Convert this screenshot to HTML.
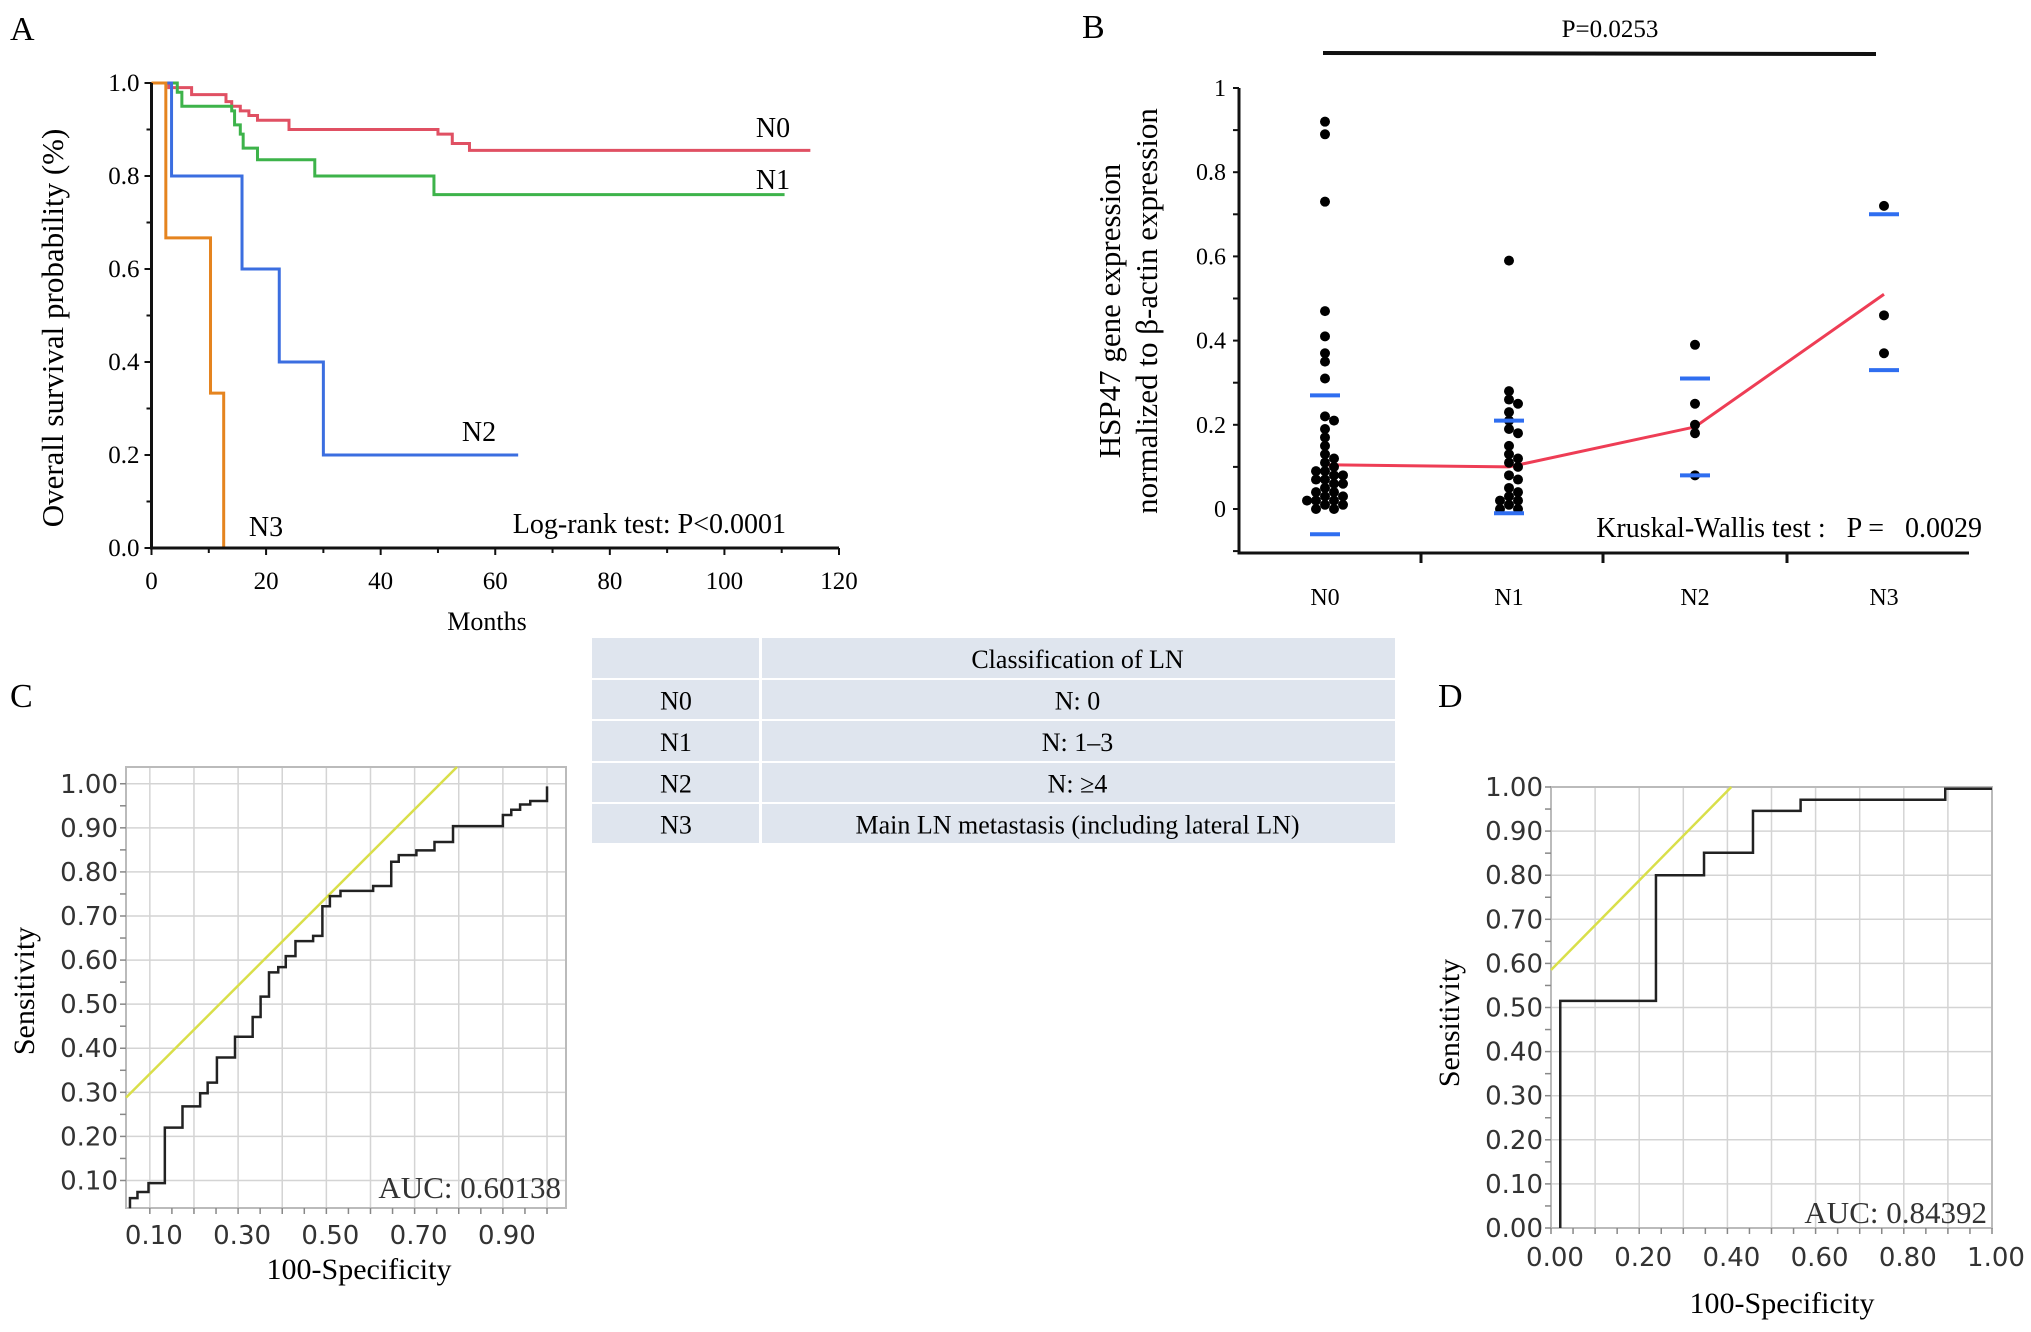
<!DOCTYPE html>
<html><head><meta charset="utf-8"><style>
html,body{margin:0;padding:0;background:#fff}
svg{display:block}
.serif{font-family:"Liberation Serif",serif}
.sans{font-family:"DejaVu Sans","Liberation Sans",sans-serif}
</style></head><body>
<svg id="fig" width="2031" height="1332" viewBox="0 0 2031 1332" xmlns="http://www.w3.org/2000/svg">
<g id="pa"></g>
<g id="pb"></g>
<g id="pc"></g>
<g id="pd"></g>
<g id="tbl"></g>
</svg>
<script>
// ---------- Panel A data ----------
const kmN0T=[0,3,7,13,14,15.5,17,18.5,24,50,52.5,55.5,115];
const kmN0S=[1,0.99,0.975,0.96,0.95,0.94,0.93,0.92,0.90,0.89,0.87,0.855,0.855];
const kmN1T=[0,4.5,5.3,14,14.5,15.5,16,18.5,28.5,49.3,110.5];
const kmN1S=[1,0.98,0.95,0.94,0.91,0.89,0.86,0.835,0.80,0.76,0.76];
const kmN2T=[0,3.5,15.8,22.3,30,64];
const kmN2S=[1,0.8,0.6,0.4,0.2,0.2];
const kmN3T=[0,2.5,10.3,12.6,12.6];
const kmN3S=[1,0.667,0.333,0,0];
const aXTicks=[0,20,40,60,80,100,120];
const aYTicks=["0.0","0.2","0.4","0.6","0.8","1.0"];
// ---------- Panel B data ----------
const bCats=["N0","N1","N2","N3"];
const bN0=[0.92,0.89,0.73,0.47,0.41,0.37,0.35,0.31,0.22,0.21,0.19,0.17,0.15,0.13,0.12,0.11,0.10,0.09,0.09,0.08,0.08,0.07,0.07,0.06,0.06,0.05,0.04,0.04,0.03,0.03,0.02,0.02,0.02,0.01,0.01,0.0,0.0];
const bN1=[0.59,0.28,0.26,0.25,0.23,0.21,0.19,0.18,0.15,0.13,0.12,0.11,0.10,0.08,0.07,0.05,0.04,0.03,0.02,0.02,0.01,0.0,0.0];
const bN2=[0.39,0.25,0.20,0.18,0.08];
const bN3=[0.72,0.46,0.37];
const bUpper=[0.27,0.21,0.31,0.70];
const bLower=[-0.06,-0.01,0.08,0.33];
const bMean=[0.105,0.10,0.195,0.51];
const bYTicks=["0","0.2","0.4","0.6","0.8","1"];
// ---------- Panel C data ----------
const cFpr=[0.055,0.055,0.072,0.072,0.097,0.097,0.134,0.134,0.174,0.174,0.214,0.214,0.231,0.231,0.252,0.252,0.293,0.293,0.333,0.333,0.351,0.351,0.37,0.37,0.391,0.391,0.408,0.408,0.43,0.43,0.47,0.47,0.491,0.491,0.508,0.508,0.532,0.532,0.606,0.606,0.647,0.647,0.664,0.664,0.704,0.704,0.745,0.745,0.787,0.787,0.9,0.9,0.919,0.919,0.939,0.939,0.962,0.962,1.0,1.0];
const cTpr=[0.037,0.06,0.06,0.074,0.074,0.094,0.094,0.22,0.22,0.268,0.268,0.298,0.298,0.322,0.322,0.379,0.379,0.426,0.426,0.471,0.471,0.517,0.517,0.572,0.572,0.584,0.584,0.609,0.609,0.643,0.643,0.655,0.655,0.722,0.722,0.745,0.745,0.757,0.757,0.768,0.768,0.823,0.823,0.838,0.838,0.849,0.849,0.868,0.868,0.904,0.904,0.929,0.929,0.941,0.941,0.953,0.953,0.961,0.961,0.994];
const cRef=[0.242,1.0];  // intercept, slope
const cXTicks=["0.10","0.30","0.50","0.70","0.90"];
const cYTicks=["0.10","0.20","0.30","0.40","0.50","0.60","0.70","0.80","0.90","1.00"];
// ---------- Panel D data ----------
const dFpr=[0.021,0.021,0.238,0.238,0.347,0.347,0.458,0.458,0.566,0.566,0.894,0.894,1.0];
const dTpr=[0.0,0.515,0.515,0.80,0.80,0.851,0.851,0.946,0.946,0.971,0.971,0.996,0.996];
const dRef=[0.585,1.015];
const dXTicks=["0.00","0.20","0.40","0.60","0.80","1.00"];
const dYTicks=["0.00","0.10","0.20","0.30","0.40","0.50","0.60","0.70","0.80","0.90","1.00"];
// ---------- Table ----------
const tblRows=[["","Classification of LN"],["N0","N: 0"],["N1","N: 1–3"],["N2","N: ≥4"],["N3","Main LN metastasis (including lateral LN)"]];

const NS="http://www.w3.org/2000/svg";
function mk(parent,tag,attrs,text){const e=document.createElementNS(NS,tag);for(const k in attrs)e.setAttribute(k,attrs[k]);if(text!==undefined)e.textContent=text;parent.appendChild(e);return e;}

// ===== Panel A =====
(function(){
const g=document.getElementById('pa');
const X=v=>151.5+v/120*(839-151.5), Y=v=>548-v*(548-83);
let t=mk(g,'text',{x:10,y:40,'font-size':34,class:'serif'},'A');

function step(T,S,color,name){let d='M'+X(T[0])+','+Y(S[0]);for(let i=1;i<T.length;i++){d+=' H'+X(T[i])+' V'+Y(S[i]);}
 const p=mk(g,'path',{d:d,fill:'none',stroke:color,'stroke-width':3});}
step(kmN0T,kmN0S,'#e05063','curve-n0');
step(kmN1T,kmN1S,'#3db34a','curve-n1');
step(kmN2T,kmN2S,'#3b6ee0','curve-n2');
step(kmN3T,kmN3S,'#e5841f','curve-n3');
let ax=mk(g,'path',{d:`M${X(0)},${Y(1)} V${Y(0)} H${X(120)}`,fill:'none',stroke:'#111','stroke-width':3});

for(let m=0;m<=120;m+=10){const l=mk(g,'line',{x1:X(m),x2:X(m),y1:Y(0),y2:Y(0)+(m%20==0?7:5),stroke:'#111','stroke-width':2});}
for(let v=0;v<=10;v++){const l=mk(g,'line',{x1:X(0),x2:X(0)-(v%2==0?7:5),y1:Y(v/10),y2:Y(v/10),stroke:'#111','stroke-width':2});}
aXTicks.forEach(v=>{const e=mk(g,'text',{x:X(v),y:589,'font-size':25,'text-anchor':'middle',class:'serif'},String(v));});
aYTicks.forEach(s=>{const e=mk(g,'text',{x:X(0)-12,y:Y(+s)+8,'font-size':25,'text-anchor':'end',class:'serif'},s);});
let e=mk(g,'text',{x:487,y:630,'font-size':26,'text-anchor':'middle',class:'serif'},'Months');
e=mk(g,'text',{x:0,y:0,'font-size':31,'text-anchor':'middle',class:'serif',transform:'translate(63,328) rotate(-90)'},'Overall survival probability (%)');
[['N0',773,137],['N1',773,189],['N2',479,441],['N3',266,536]].forEach(a=>{const q=mk(g,'text',{x:a[1],y:a[2],'font-size':28,'text-anchor':'middle',class:'serif'},a[0]);});
e=mk(g,'text',{x:786,y:533,'font-size':28,'text-anchor':'end',class:'serif'},'Log-rank test: P<0.0001');
})();

// ===== Panel B =====
(function(){
const g=document.getElementById('pb');
const catX=[1325,1509,1695,1884];
const Y=v=>509-v*(509-88);
let e=mk(g,'text',{x:1082,y:38,'font-size':34,class:'serif'},'B');
e=mk(g,'text',{x:1610,y:37,'font-size':25,'text-anchor':'middle',class:'serif'},'P=0.0253');
e=mk(g,'line',{x1:1323,x2:1876,y1:53,y2:54,stroke:'#111','stroke-width':4});
e=mk(g,'path',{d:`M1239,${Y(1)} V553 H1969`,fill:'none',stroke:'#111','stroke-width':3});
for(let v=-1;v<=10;v++){const l=mk(g,'line',{x1:1239,x2:1233,y1:Y(v/10),y2:Y(v/10),stroke:'#111','stroke-width':2});}
[1421,1603,1787].forEach(x=>{const l=mk(g,'line',{x1:x,x2:x,y1:553,y2:563,stroke:'#111','stroke-width':3});});
bYTicks.forEach(s=>{const q=mk(g,'text',{x:1226,y:Y(+s)+8,'font-size':24,'text-anchor':'end',class:'serif'},s);});
bCats.forEach((c,i)=>{const q=mk(g,'text',{x:catX[i],y:605,'font-size':24,'text-anchor':'middle',class:'serif'},c);});
e=mk(g,'text',{x:0,y:0,'font-size':31,'text-anchor':'middle',class:'serif',transform:'translate(1120,311) rotate(-90)'},'HSP47 gene expression');
e=mk(g,'text',{x:0,y:0,'font-size':31,'text-anchor':'middle',class:'serif',transform:'translate(1157,311) rotate(-90)'},'normalized to β-actin expression');
let d='';bMean.forEach((v,i)=>{d+=(i?' L':'M')+catX[i]+','+Y(v);});
e=mk(g,'path',{d:d,fill:'none',stroke:'#ee3d55','stroke-width':3});
const r=5;
[bN0,bN1,bN2,bN3].forEach((arr,ci)=>{
 const placed=[];
 arr.forEach(v=>{const y=Y(v);let off=0;
  const cands=[0];for(let k=1;k<14;k++){cands.push(k*r*0.9,-k*r*0.9);}
  for(const o of cands){if(placed.every(p=>Math.hypot(p[0]-o,p[1]-y)>=1.6*r)){off=o;break;}}
  placed.push([off,y]);
  const c=mk(g,'circle',{cx:catX[ci]+off,cy:y,r:r,fill:'#000'});
  
  
 });
});
bUpper.forEach((v,i)=>{const l=mk(g,'line',{x1:catX[i]-15,x2:catX[i]+15,y1:Y(v),y2:Y(v),stroke:'#2f6ef0','stroke-width':4});});
bLower.forEach((v,i)=>{const l=mk(g,'line',{x1:catX[i]-15,x2:catX[i]+15,y1:Y(v),y2:Y(v),stroke:'#2f6ef0','stroke-width':4});});
e=mk(g,'text',{x:1982,y:537,'font-size':28,'text-anchor':'end',class:'serif'},'Kruskal-Wallis test :\u00a0\u00a0\u00a0P =\u00a0\u00a0\u00a00.0029');
})();

// ===== ROC helper =====
function roc(g,box,xr,yr,fpr,tpr,ref,xt,yt,gridX,gridY,minorX,minorY,auc,lab,labPos,yTitle,xTitle,xLabY){
 const X=v=>box.l+(v-xr[0])/(xr[1]-xr[0])*(box.r-box.l), Y=v=>box.b-(v-yr[0])/(yr[1]-yr[0])*(box.b-box.t);
 let e=mk(g,'text',{x:labPos[0],y:labPos[1],'font-size':34,class:'serif'},lab);
 gridX.forEach(v=>{const l=mk(g,'line',{x1:X(v),x2:X(v),y1:box.t,y2:box.b,stroke:'#d4d4d4','stroke-width':1.5});});
 gridY.forEach(v=>{const l=mk(g,'line',{x1:box.l,x2:box.r,y1:Y(v),y2:Y(v),stroke:'#d4d4d4','stroke-width':1.5});});
 e=mk(g,'rect',{x:box.l,y:box.t,width:box.r-box.l,height:box.b-box.t,fill:'none',stroke:'#bbb','stroke-width':2});
 minorX.forEach(v=>{const l=mk(g,'line',{x1:X(v),x2:X(v),y1:box.b,y2:box.b+6,stroke:'#888','stroke-width':1.5});});
 minorY.forEach(v=>{const l=mk(g,'line',{x1:box.l,x2:box.l-6,y1:Y(v),y2:Y(v),stroke:'#888','stroke-width':1.5});});
 const x0=Math.max(xr[0],(yr[0]-ref[0])/ref[1]), x1=Math.min(xr[1],(yr[1]-ref[0])/ref[1]);
 e=mk(g,'line',{x1:X(x0),y1:Y(ref[0]+ref[1]*x0),x2:X(x1),y2:Y(ref[0]+ref[1]*x1),stroke:'#d9df4a','stroke-width':2.5});
 let d='';fpr.forEach((v,i)=>{d+=(i?' L':'M')+X(v)+','+Y(tpr[i]);});
 e=mk(g,'path',{d:d,fill:'none',stroke:'#222','stroke-width':2.5});
 xt.forEach(s=>{const q=mk(g,'text',{x:X(+s)+4,y:xLabY,'font-size':26,'text-anchor':'middle',class:'sans',fill:'#333'},s);});
 yt.forEach(s=>{const q=mk(g,'text',{x:box.l-8,y:Y(+s)+9,'font-size':26,'text-anchor':'end',class:'sans',fill:'#333'},s);});
 e=mk(g,'text',{x:0,y:0,'font-size':30,'text-anchor':'middle',class:'serif',transform:`translate(${yTitle[0]},${yTitle[1]}) rotate(-90)`},'Sensitivity');
 e=mk(g,'text',{x:xTitle[0],y:xTitle[1],'font-size':30,'text-anchor':'middle',class:'serif'},'100-Specificity');
 e=mk(g,'text',{x:box.r-5,y:auc[1],'font-size':31,'text-anchor':'end',class:'serif',fill:'#333'},auc[0]);
}
const tenths=[],twentieths=[];for(let k=0;k<=10;k++)tenths.push(k/10);for(let k=0;k<=20;k++)twentieths.push(k/20);
roc(document.getElementById('pc'),{l:126,r:566,t:767,b:1208},[0.046,1.043],[0.0376,1.038],cFpr,cTpr,cRef,cXTicks,cYTicks,
 tenths.filter(v=>v>0.05),tenths.filter(v=>v>0.05),twentieths.filter(v=>v>0.05),twentieths.filter(v=>v>0.05),
 ['AUC: 0.60138',1198],'C',[10,707],[34,991],[359,1279],1244);
roc(document.getElementById('pd'),{l:1551,r:1992,t:787,b:1228},[0,1],[0,1],dFpr,dTpr,dRef,dXTicks,dYTicks,
 tenths,tenths,twentieths,twentieths,['AUC: 0.84392',1223],'D',[1438,707],[1459,1023],[1782,1313],1266);

// ===== Table =====
(function(){
const g=document.getElementById('tbl');
const rows=[638,680,721,763,804,845];const x0=592,xm=760,x1=1395;
tblRows.forEach((row,i)=>{
 const y=rows[i],h=rows[i+1]-rows[i];
 let r=mk(g,'rect',{x:x0,y:y,width:xm-x0-1,height:h-2,fill:'#dfe5ee'});
 r=mk(g,'rect',{x:xm+2,y:y,width:x1-xm-2,height:h-2,fill:'#dfe5ee'});
 let t=mk(g,'text',{x:(x0+xm)/2,y:y+h/2+9,'font-size':26,'text-anchor':'middle',class:'serif'},row[0]);
 t=mk(g,'text',{x:(xm+x1)/2,y:y+h/2+9,'font-size':26,'text-anchor':'middle',class:'serif'},row[1]);
});
})();
</script>
</body></html>
